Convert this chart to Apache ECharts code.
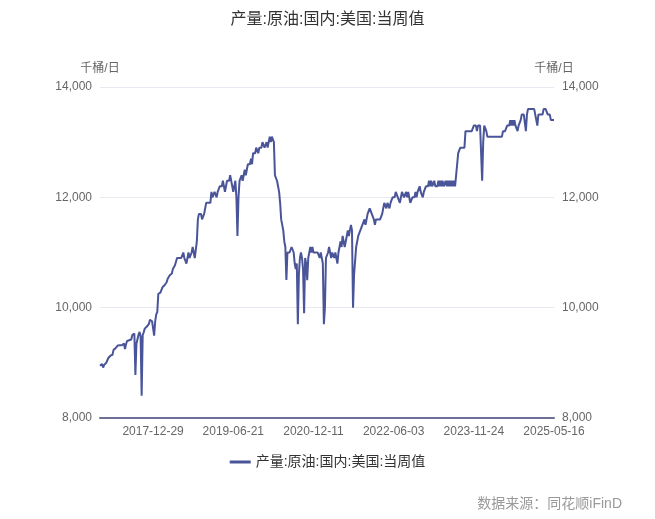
<!DOCTYPE html>
<html>
<head>
<meta charset="utf-8">
<script src="https://cdn.jsdelivr.net/npm/echarts@6/dist/echarts.min.js"></script>
<style>html,body{margin:0;padding:0;background:#fff}#c{width:655px;height:519px}</style>
</head>
<body>
<div id="c"></div>
<script>
// ---- data (weekly, thousand barrels/day) ----
const chartTitle = '产量:原油:国内:美国:当周值';
const seriesName = '产量:原油:国内:美国:当周值';
const unitName = '千桶/日';
const sourceText = '数据来源：同花顺iFinD';
const firstWeek = '2017-01-06';
const weekCount = 437;
const shownLabels = ['2017-12-29', '2019-06-21', '2020-12-11', '2022-06-03', '2023-11-24', '2025-05-16'];
const yTicks = [8000, 10000, 12000, 14000];

const values2017 = [8946, 8960, 8978, 8915, 8963, 8979, 9001, 9032, 9088, 9100,
  9129, 9147, 9147, 9235, 9252, 9265, 9293, 9314, 9305, 9320,
  9342, 9318, 9328, 9350, 9250, 9338, 9397, 9429, 9410, 9431,
  9423, 9502, 9528, 9530, 8781, 9347, 9345, 9510, 9561, 9480,
  8402, 9505, 9553, 9620, 9645, 9658, 9682, 9707, 9780, 9789,
  9754, 9782];
const values2018 = [9492, 9750, 9878, 9919, 10251, 10271, 10273, 10285, 10369, 10381,
  10407, 10433, 10460, 10525, 10540, 10586, 10620, 10619, 10703, 10725,
  10769, 10800, 10900, 10900, 10900, 10900, 10900, 10900, 11000, 10900,
  10900, 10800, 10900, 11000, 10900, 10900, 11000, 11100, 11100, 10900,
  10900, 11200, 11600, 11700, 11700, 11700, 11600, 11600, 11700, 11700,
  11900, 11900];
const values2019 = [11900, 11900, 11900, 12100, 12000, 12000, 12100, 12100, 12000, 12100,
  12100, 12200, 12200, 12200, 12300, 12200, 12100, 12200, 12300, 12300,
  12300, 12400, 12300, 12200, 12100, 12200, 12300, 12000, 11300, 12000,
  12300, 12300, 12400, 12300, 12400, 12500, 12400, 12500, 12600, 12600,
  12600, 12700, 12600, 12800, 12800, 12800, 12900, 12900, 12800, 12900,
  12900, 12900];
const values2020 = [13000, 13000, 12900, 12900, 13000, 12900, 13000, 13100, 13000, 13100,
  13100, 13000, 12400, 12400, 12300, 12200, 12100, 11900, 11600, 11500,
  11400, 11200, 11100, 10500, 11000, 11000, 11000, 11000, 11100, 11100,
  11000, 10800, 10700, 10800, 9700, 10600, 10900, 11000, 10900, 10700,
  9900, 10900, 10800, 10500, 10900, 11000, 11100, 11000, 11100, 11000,
  11000, 11000];
const values2021 = [11000, 11000, 11000, 10900, 11000, 11000, 10800, 9700, 10000, 10900,
  10900, 11000, 11100, 11000, 10900, 11000, 11000, 10900, 11000, 11000,
  10800, 11000, 11100, 11200, 11100, 11300, 11200, 11100, 11200, 11300,
  11400, 11300, 11400, 11500, 11400, 10000, 10600, 10600, 11100, 11100,
  11300, 11300, 11400, 11400, 11500, 11500, 11600, 11500, 11600, 11700,
  11700, 11800];
const values2022 = [11800, 11700, 11700, 11600, 11500, 11600, 11600, 11600, 11600, 11600,
  11600, 11700, 11800, 11900, 11900, 11800, 11900, 11900, 11800, 11900,
  11900, 12000, 12000, 12000, 12100, 12100, 12000, 12000, 11900, 12000,
  12100, 12100, 12000, 12000, 12100, 12000, 12100, 12000, 11900, 11900,
  12000, 12000, 12000, 12100, 12000, 12100, 12100, 12200, 12100, 12100,
  12000, 12100];
const values2023 = [12100, 12200, 12200, 12200, 12300, 12200, 12300, 12200, 12200, 12300,
  12200, 12200, 12200, 12300, 12200, 12300, 12200, 12300, 12200, 12200,
  12300, 12200, 12300, 12200, 12300, 12200, 12300, 12200, 12300, 12200,
  12400, 12600, 12800, 12800, 12900, 12900, 12900, 12900, 12900, 13200,
  13200, 13200, 13200, 13200, 13200, 13200, 13200, 13300, 13300, 13300,
  13200, 13300];
const values2024 = [13300, 13300, 13300, 12300, 13000, 13300, 13300, 13200, 13100, 13100,
  13100, 13100, 13100, 13100, 13100, 13100, 13100, 13100, 13100, 13100,
  13100, 13100, 13100, 13200, 13200, 13200, 13200, 13300, 13300, 13300,
  13400, 13300, 13400, 13300, 13400, 13300, 13300, 13200, 13300, 13300,
  13400, 13500, 13500, 13500, 13500, 13200, 13500, 13600, 13600, 13600,
  13600, 13600];
const values2025 = [13600, 13600, 13500, 13500, 13300, 13500, 13500, 13500, 13500, 13500,
  13600, 13600, 13600, 13600, 13500, 13500, 13500, 13400, 13400, 13400,
  13400];

const values = [].concat(values2017, values2018, values2019, values2020, values2021,
  values2022, values2023, values2024, values2025);

// weekly date categories
const categories = [];
{
  const d0 = new Date(firstWeek + 'T00:00:00Z');
  for (let k = 0; k < weekCount; k++) {
    const d = new Date(d0.getTime() + k * 7 * 86400000);
    categories.push(d.toISOString().slice(0, 10));
  }
}

const FONT = '"Liberation Sans", "Noto Sans CJK SC", sans-serif';
const chart = echarts.init(document.getElementById('c'), null, {renderer: 'canvas'});
const yAxisCommon = {
  type: 'value',
  min: yTicks[0],
  max: yTicks[yTicks.length - 1],
  interval: yTicks[1] - yTicks[0],
  name: unitName,
  nameLocation: 'end',
  nameGap: 12,
  nameTextStyle: {color: '#666', fontSize: 12, fontFamily: FONT, align: 'center'},
  axisLine: {show: false},
  axisTick: {show: false},
  axisLabel: {color: '#666', fontSize: 12, fontFamily: FONT, margin: 8,
    formatter: v => v.toLocaleString('en-US')}
};
chart.setOption({
  animation: false,
  textStyle: {fontFamily: FONT},
  title: {
    text: chartTitle,
    left: 'center',
    top: 7,
    textStyle: {fontSize: 16, fontWeight: 'normal', color: '#333', fontFamily: FONT}
  },
  legend: {
    data: [seriesName],
    bottom: 45,
    left: 'center',
    icon: 'rect',
    itemWidth: 21,
    itemHeight: 3,
    itemGap: 10,
    textStyle: {fontSize: 14, color: '#333', fontFamily: FONT}
  },
  graphic: [{
    type: 'text',
    right: 33,
    top: 497,
    style: {text: sourceText, fill: '#999', font: '14px ' + FONT}
  }],
  grid: {left: 100, right: 101, top: 87, bottom: 101},
  xAxis: {
    type: 'category',
    data: categories,
    boundaryGap: false,
    axisLine: {show: true, lineStyle: {color: '#6e6e96', width: 2}},
    axisTick: {show: false},
    axisLabel: {
      color: '#666', fontSize: 12, fontFamily: FONT, margin: 8,
      interval: (idx, val) => shownLabels.indexOf(val) >= 0
    },
    splitLine: {show: false}
  },
  yAxis: [
    Object.assign({}, yAxisCommon, {position: 'left',
      splitLine: {show: true, lineStyle: {color: '#e8e8f0', width: 1}}}),
    Object.assign({}, yAxisCommon, {position: 'right', splitLine: {show: false}})
  ],
  series: [{
    name: seriesName,
    type: 'line',
    data: values,
    yAxisIndex: 0,
    symbol: 'none',
    showSymbol: false,
    lineStyle: {color: '#4a5599', width: 2},
    itemStyle: {color: '#4a5599'}
  }]
});
</script>
</body>
</html>
